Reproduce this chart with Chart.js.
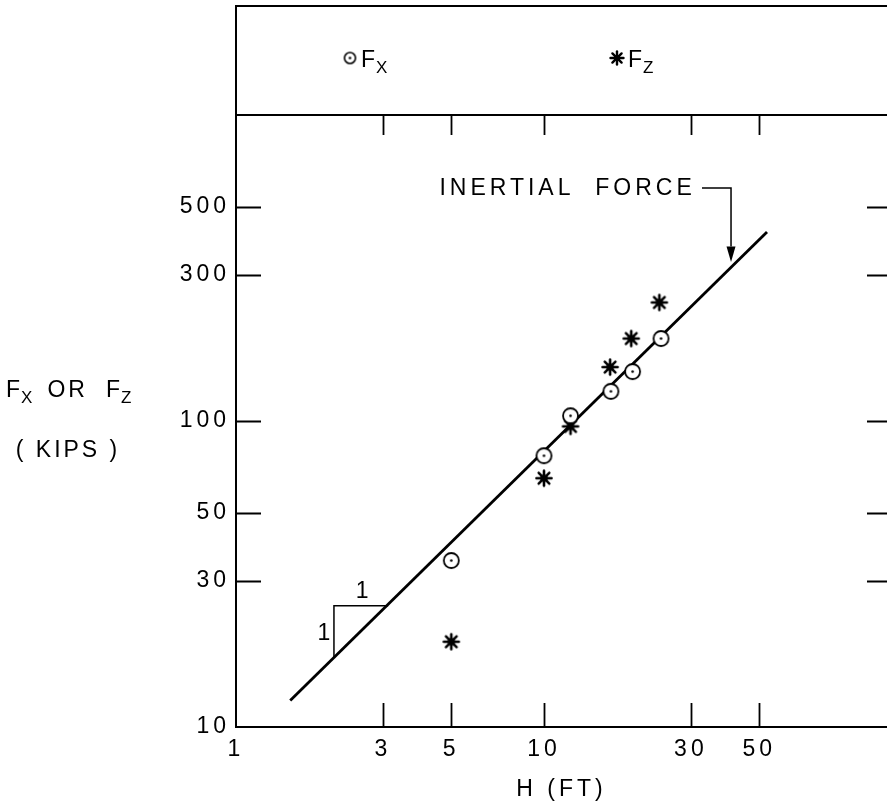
<!DOCTYPE html>
<html><head><meta charset="utf-8">
<script src="https://cdn.jsdelivr.net/npm/chart.js@4.4.1/dist/chart.umd.min.js"></script>
<style>html,body{margin:0;padding:0;background:#fff;overflow:hidden}#wrap{width:887px;height:806px;position:relative}</style>
</head><body><div id="wrap"><canvas id="c" width="887" height="806"></canvas></div>
<script>
// ---- data ----
const xTickValues = [1, 3, 5, 10, 30, 50];
const yTickValues = [10, 30, 50, 100, 300, 500];
const fxH = [5, 10, 12.2, 16.5, 19.4, 24.0];
const fxF = [35, 77, 104, 125, 145, 186];
const fzH = [5, 10, 12.2, 16.4, 19.2, 23.7];
const fzF = [19, 65, 96, 150, 186, 244];
const lineH = [1.5, 53];
const lineF = [12.2, 415];
const slopeH = [2.08, 2.08, 3.12];
const slopeF = [16.8, 24.9, 24.9];
const leaderH = [32.6, 40.5, 40.5];
const leaderF = [577, 577, 372];
const arrowTip = [40.5, 331];
const labelAnchor = [30.2, 577];

const FONT = 'Liberation Sans, Arial, sans-serif';

function makeCircle(r, lw) {
  const s = Math.ceil(2 * r + lw + 2);
  const c = document.createElement('canvas'); c.width = s; c.height = s;
  const g = c.getContext('2d');
  g.fillStyle = '#fff'; g.strokeStyle = '#000'; g.lineWidth = lw;
  g.beginPath(); g.arc(s / 2, s / 2, r, 0, Math.PI * 2); g.fill(); g.stroke();
  g.fillStyle = '#000'; g.beginPath(); g.arc(s / 2, s / 2, 1.3, 0, Math.PI * 2); g.fill();
  return c;
}
function makeStar(r, lw) {
  const s = Math.ceil(2 * r + lw + 2);
  const c = document.createElement('canvas'); c.width = s; c.height = s;
  const g = c.getContext('2d');
  g.strokeStyle = '#000'; g.lineWidth = lw; g.lineCap = 'round';
  for (let k = 0; k < 4; k++) {
    const a = k * Math.PI / 4;
    g.beginPath();
    g.moveTo(s / 2 - r * Math.cos(a), s / 2 - r * Math.sin(a));
    g.lineTo(s / 2 + r * Math.cos(a), s / 2 + r * Math.sin(a));
    g.stroke();
  }
  g.fillStyle = '#000'; g.beginPath(); g.arc(s / 2, s / 2, r * 0.5, 0, Math.PI * 2); g.fill();
  return c;
}
const circleImg = makeCircle(7.5, 1.8);
const starImg = makeStar(7.5, 2.6);
const circleLeg = makeCircle(5.5, 1.6);
const starLeg = makeStar(6.5, 2.4);

const pts = (xs, ys) => xs.map((v, i) => ({ x: v, y: ys[i] }));

function subText(ctx, x, y, main, sub, size) {
  ctx.font = size + 'px ' + FONT;
  ctx.textAlign = 'left'; ctx.textBaseline = 'alphabetic';
  ctx.fillText(main, x, y);
  const w = ctx.measureText(main).width;
  ctx.font = Math.round(size * 0.72) + 'px ' + FONT;
  ctx.fillText(sub, x + w - 1, y + 6);
  return x + w - 1 + ctx.measureText(sub).width;
}

const annot = {
  id: 'annot',
  beforeDraw(chart) { chart.ctx.letterSpacing = '4px'; },
  afterDraw(chart) {
    const { ctx, chartArea: a, scales: { x, y } } = chart;
    ctx.save();
    ctx.strokeStyle = '#000'; ctx.fillStyle = '#000'; ctx.lineWidth = 2;
    const legTop = a.top - 109;
    // frame
    ctx.beginPath();
    ctx.moveTo(a.right, legTop); ctx.lineTo(a.left, legTop); ctx.lineTo(a.left, a.bottom); ctx.lineTo(a.right, a.bottom);
    ctx.moveTo(a.left, a.top); ctx.lineTo(a.right, a.top);
    ctx.stroke();
    // inner ticks
    ctx.lineWidth = 1.8;
    ctx.beginPath();
    xTickValues.forEach(v => {
      if (v === x.min) return;
      const px = Math.round(x.getPixelForValue(v)) + 0.5;
      ctx.moveTo(px, a.bottom); ctx.lineTo(px, a.bottom - 24);
      ctx.moveTo(px, a.top); ctx.lineTo(px, a.top + 20);
    });
    yTickValues.forEach(v => {
      if (v === y.min) return;
      const py = Math.round(y.getPixelForValue(v)) + 0.5;
      ctx.moveTo(a.left, py); ctx.lineTo(a.left + 25, py);
      ctx.moveTo(a.right, py); ctx.lineTo(a.right - 20, py);
    });
    ctx.stroke();
    ctx.letterSpacing = '2px';
    // legend
    const ly = legTop + 52;
    ctx.drawImage(circleLeg, 350 - circleLeg.width / 2, ly - circleLeg.height / 2);
    subText(ctx, 361, ly + 9, 'F', 'X', 23);
    ctx.drawImage(starLeg, 617 - starLeg.width / 2, ly - starLeg.height / 2);
    subText(ctx, 628, ly + 9, 'F', 'Z', 23);
    // y title
    let xx = subText(ctx, 6, 397, 'F', 'X', 23);
    ctx.font = '23px ' + FONT;
    ctx.letterSpacing = '3px';
    ctx.fillText('OR', xx + 13, 397);
    xx = xx + 13 + ctx.measureText('OR').width + 18;
    ctx.letterSpacing = '2px';
    subText(ctx, xx, 397, 'F', 'Z', 23);
    ctx.font = '23px ' + FONT; ctx.textAlign = 'center';
    ctx.letterSpacing = '3px';
    ctx.fillText('( KIPS )', 68, 457);
    // slope triangle labels
    const sx = x.getPixelForValue(slopeH[0]);
    const sy1 = y.getPixelForValue(slopeF[0]);
    const sy2 = y.getPixelForValue(slopeF[1]);
    const sx2 = x.getPixelForValue(slopeH[2]);
    ctx.textBaseline = 'middle';
    ctx.letterSpacing = '0px';
    ctx.fillText('1', sx - 10, (sy1 + sy2) / 2 + 2);
    ctx.fillText('1', (sx + sx2) / 2 + 1, sy2 - 14);
    // inertial force label
    ctx.letterSpacing = '4px';
    ctx.textAlign = 'right';
    ctx.fillText('INERTIAL  FORCE', x.getPixelForValue(labelAnchor[0]) + 4, y.getPixelForValue(labelAnchor[1]) + 1);
    // arrow head
    const tx = x.getPixelForValue(arrowTip[0]), ty = y.getPixelForValue(arrowTip[1]);
    const by = y.getPixelForValue(leaderF[2]);
    ctx.beginPath();
    ctx.moveTo(tx, ty); ctx.lineTo(tx - 4.5, by); ctx.lineTo(tx + 4.5, by); ctx.closePath(); ctx.fill();
    ctx.restore();
  }
};

const tickFont = { family: FONT, size: 23 };
new Chart(document.getElementById('c').getContext('2d'), {
  type: 'scatter',
  data: {
    datasets: [
      { label: 'Inertial force', data: pts(lineH, lineF), showLine: true, borderColor: '#000', borderWidth: 2.8, pointRadius: 0, order: 3 },
      { label: 'Slope 1:1', data: pts(slopeH, slopeF), showLine: true, borderColor: '#000', borderWidth: 1.5, pointRadius: 0, order: 3 },
      { label: 'Leader', data: pts(leaderH, leaderF), showLine: true, borderColor: '#000', borderWidth: 1.5, pointRadius: 0, order: 3 },
      { label: 'Fx', data: pts(fxH, fxF), pointStyle: circleImg, pointRadius: 8, order: 1 },
      { label: 'Fz', data: pts(fzH, fzF), pointStyle: starImg, pointRadius: 8, order: 2 }
    ]
  },
  options: {
    responsive: false, animation: false, events: [],
    layout: { autoPadding: false, padding: { top: 115, left: 0, right: 0, bottom: 0 } },
    plugins: { legend: { display: false }, tooltip: { enabled: false } },
    scales: {
      x: {
        type: 'logarithmic', min: 1, max: 130,
        afterBuildTicks: s => { s.ticks = xTickValues.map(v => ({ value: v })); },
        afterFit: s => { s.height = 79; s.paddingRight = 0; s.paddingLeft = 0; },
        grid: { display: false, drawTicks: false }, border: { display: false },
        ticks: { callback: v => String(v), font: tickFont, color: '#000', padding: 9, autoSkip: false, maxRotation: 0 },
        title: { display: true, text: 'H (FT)', font: tickFont, color: '#000', padding: { top: 0, bottom: 3 } }
      },
      y: {
        type: 'logarithmic', min: 10, max: 1000,
        afterBuildTicks: s => { s.ticks = yTickValues.map(v => ({ value: v })); },
        afterFit: s => { s.width = 236; s.paddingTop = 0; s.paddingBottom = 0; },
        grid: { display: false, drawTicks: false }, border: { display: false },
        ticks: { callback: v => String(v), font: tickFont, color: '#000', padding: 6, autoSkip: false }
      }
    }
  },
  plugins: [annot]
});
</script></body></html>
